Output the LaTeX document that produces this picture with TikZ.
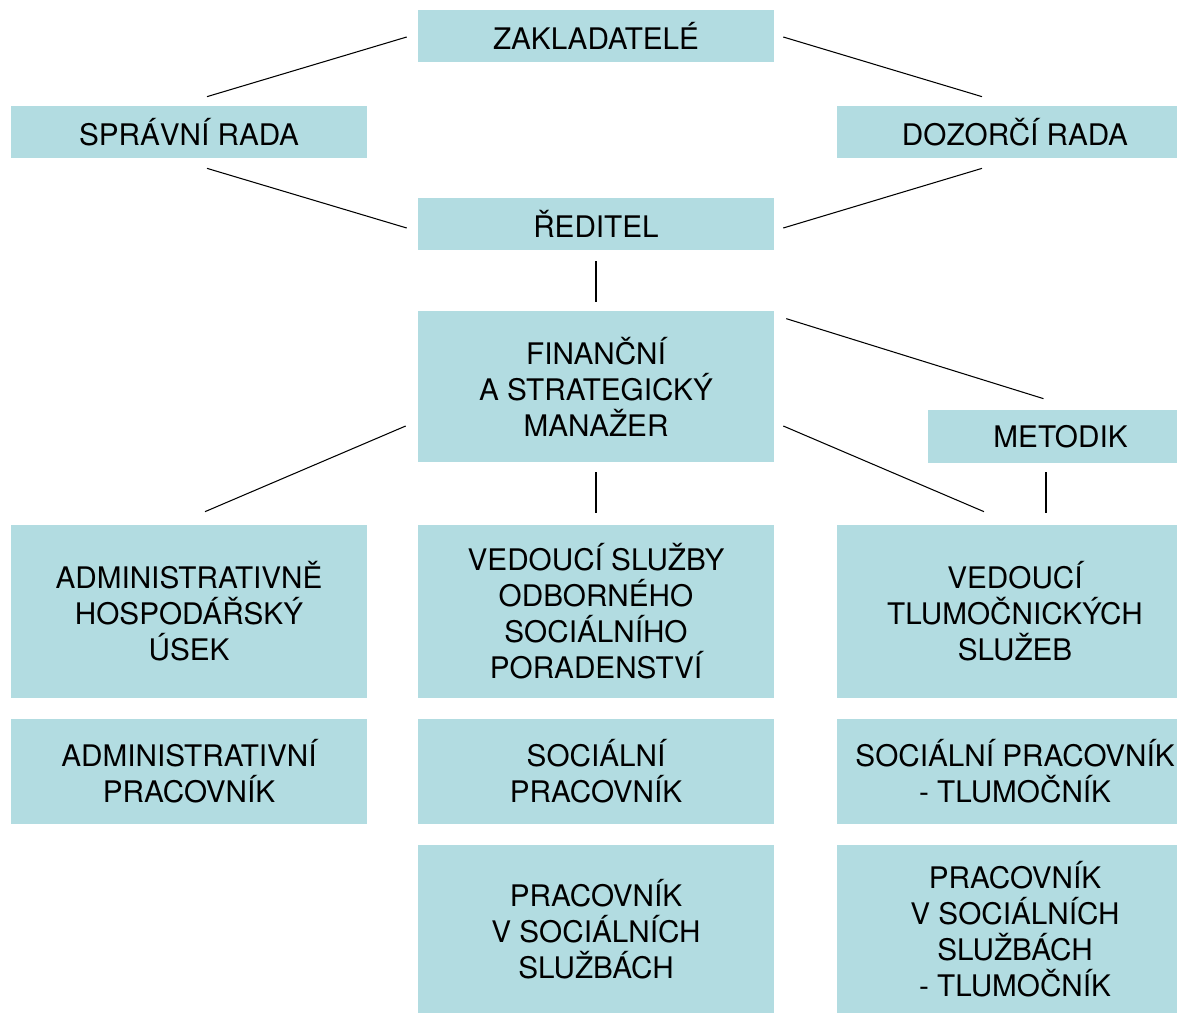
\documentclass[tikz,border=0pt]{standalone}
\usepackage{fontspec}
\setmainfont{TeX Gyre Heros}
\usepackage{tikz}
\definecolor{boxblue}{HTML}{B2DCE1}

\begin{document}
\begin{tikzpicture}[x=0.02cm, y=-0.02cm,
	box/.style={fill=boxblue, inner sep=0pt, align=center, minimum width=7.12cm,
		font=\fontsize{16.9}{20.5}\selectfont},
	link/.style={line width=0.6pt}]
	\useasboundingbox (0,0) rectangle (1177,1014);
	\clip (0,0) rectangle (1177,1014);
	% top
	\node [box, minimum height=1.04cm] (zak) at (596,36) {ZAKLADATELÉ};
	\node [box, minimum height=1.04cm] (sprava) at (189,132) {SPRÁVNÍ RADA};
	\node [box, minimum height=1.04cm] (dozor) at (1015,132) {DOZORČÍ RADA};
	\node [box, minimum height=1.04cm] (reditel) at (596,224) {ŘEDITEL};
	\node [box, minimum height=3.02cm] (financ) at (596,386.5) {FINANČNÍ\\A STRATEGICKÝ\\MANAŽER};
	\node [box, minimum height=1.06cm, minimum width=5.3cm] (metodik) at (1060.5,436.5) {METODIK};
	% three columns
	\node [box, minimum height=3.46cm] (admin) at (189,611.5) {ADMINISTRATIVNĚ\\HOSPODÁŘSKÝ\\ÚSEK};
	\node [box, minimum height=3.46cm] (vedsoc) at (596,611.5) {VEDOUCÍ SLUŽBY\\ODBORNÉHO\\SOCIÁLNÍHO\\PORADENSTVÍ};
	\node [box, minimum height=3.46cm] (vedtlum) at (1015,611.5) {VEDOUCÍ\\TLUMOČNICKÝCH\\SLUŽEB};
	\node [box, minimum height=2.1cm] (adminprac) at (189,771.5) {ADMINISTRATIVNÍ\\PRACOVNÍK};
	\node [box, minimum height=2.1cm] (socprac) at (596,771.5) {SOCIÁLNÍ\\PRACOVNÍK};
	\node [box, minimum height=2.1cm] (soctlum) at (1015,771.5) {SOCIÁLNÍ PRACOVNÍK\\- TLUMOČNÍK};
	\node [box, minimum height=3.36cm] (pracss) at (596,929) {PRACOVNÍK\\V SOCIÁLNÍCH\\SLUŽBÁCH};
	\node [box, minimum height=3.36cm] (pracsstlum) at (1015,929) {PRACOVNÍK\\V SOCIÁLNÍCH\\SLUŽBÁCH\\- TLUMOČNÍK};
	% links
	\draw [link] ([shift={(-11,1)}]zak.west) -- ([shift={(18,-9)}]sprava.north);
	\draw [link] ([shift={(9,1)}]zak.east) -- ([shift={(-33,-9)}]dozor.north);
	\draw [link] ([shift={(18,10)}]sprava.south) -- ([shift={(-11,4)}]reditel.west);
	\draw [link] ([shift={(-33,10)}]dozor.south) -- ([shift={(9,4)}]reditel.east);
	\draw [link] ([shift={(0,11)}]reditel.south) -- ([shift={(0,-9)}]financ.north);
	\draw [link] ([shift={(12,8)}]financ.north east) -- ([shift={(-17,-11)}]metodik.north);
	\draw [link] ([shift={(-12,39.5)}]financ.west) -- ([shift={(16,-13)}]admin.north);
	\draw [link] ([shift={(0,10)}]financ.south) -- ([shift={(0,-12)}]vedsoc.north);
	\draw [link] ([shift={(9,39.5)}]financ.east) -- ([shift={(-31,-13)}]vedtlum.north);
	\draw [link] ([shift={(-14.5,9)}]metodik.south) -- ([shift={(31,-12)}]vedtlum.north);
\end{tikzpicture}
\end{document}
